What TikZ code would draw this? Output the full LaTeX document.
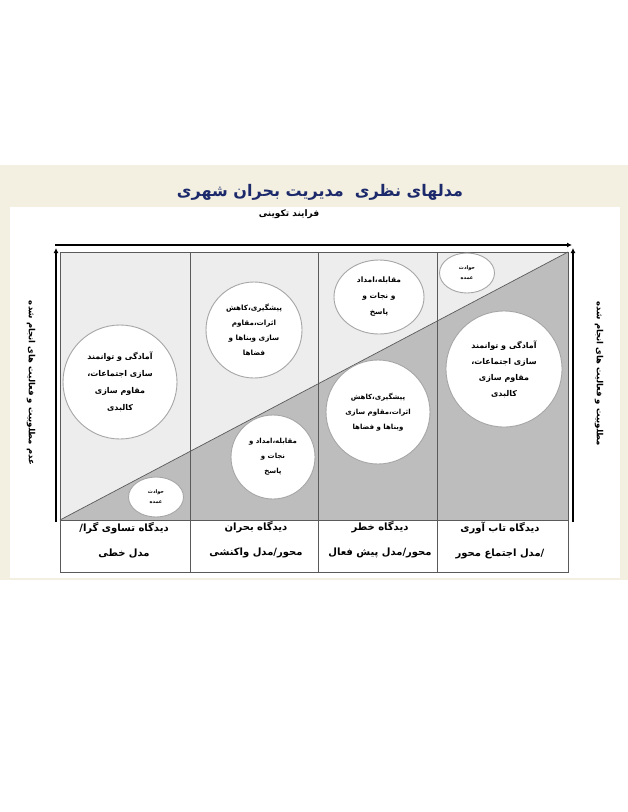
\documentclass[tikz,border=0pt]{standalone}
\usepackage{fontspec}
\newfontfamily\fa[Script=Arabic]{DejaVu Sans}
\TeXXeTstate=1
\definecolor{cream}{HTML}{F3F0E1}
\definecolor{navy}{HTML}{1C2A6B}
\definecolor{lightg}{HTML}{EDEDED}
\definecolor{darkg}{HTML}{BDBDBD}
\definecolor{framec}{HTML}{5A5A5A}
\newcommand\rl[1]{\beginR#1\endR}
\tikzset{
  bubble/.style={circle,draw=gray!70,line width=0.9pt,fill=white,inner sep=0pt,align=center,font=\fa\bfseries},
  ebubble/.style={ellipse,draw=gray!70,line width=0.9pt,fill=white,inner sep=0pt,align=center,font=\fa\bfseries},
  tabtext/.style={font=\fa\bfseries\fontsize{10}{25}\selectfont,align=center,inner sep=0pt},
  sidetext/.style={font=\fa\bfseries\fontsize{8.5}{10}\selectfont,inner sep=0pt,rotate=-90},
  bigarrow/.style={line width=2.2pt,-{Latex[length=5pt,width=5pt]}},
  gridline/.style={draw=framec,line width=0.7pt}
}
\usetikzlibrary{shapes.geometric,arrows.meta}
\begin{document}
\begin{tikzpicture}[x=1pt,y=-1pt]
\useasboundingbox (0,0) rectangle (628,812);
\fill[white] (0,0) rectangle (628,812);
\fill[cream] (0,165) rectangle (628,580);
\fill[white] (10,207) rectangle (620,578);
% title
\node[font=\fa\bfseries\fontsize{16}{18}\selectfont,text=navy,inner sep=0pt] (title) at (320,192) {\rl{مدلهای نظری \ مدیریت بحران شهری}};
\node[font=\fa\bfseries\fontsize{9}{10}\selectfont,inner sep=0pt] (sub) at (289,214) {\rl{فرایند تکوینی}};
% chart background
\coordinate (bl) at (60,520);
\coordinate (tr) at (568,252);
\fill[lightg] (60,252) rectangle (568,520);
\fill[darkg] (bl) -- (tr) -- (568,520) -- cycle;
\draw[gridline] (bl) -- (tr);
\draw[gridline] (60,252) rectangle (568,520);
\draw[gridline] (190,252) -- (190,572);
\draw[gridline] (318,252) -- (318,572);
\draw[gridline] (437,252) -- (437,572);
\draw[gridline] (60,520) rectangle (568,572);
% arrows
\coordinate (ha) at (55,245);
\coordinate (hb) at (572,245);
\coordinate (la) at (56,522);
\coordinate (lb) at (56,248);
\coordinate (ra) at (573,522);
\coordinate (rb) at (573,248);
\draw[bigarrow] (ha) -- (hb);
\draw[bigarrow] (la) -- (lb);
\draw[bigarrow] (ra) -- (rb);
% side labels
\node[sidetext] (lefttxt) at (31,383) {\rl{عدم مطلوبیت و فعالیت های انجام شده}};
\node[sidetext] (righttxt) at (599,374) {\rl{مطلوبیت و فعالیت های انجام شده}};
% bubbles
\node[bubble,minimum size=114pt,font=\fa\bfseries\fontsize{8}{17}\selectfont] (c1) at (120,382)
  {\rl{آمادگی و توانمند}\\\rl{سازی اجتماعات،}\\\rl{مقاوم سازی}\\\rl{کالبدی}};
\node[bubble,minimum size=96pt,font=\fa\bfseries\fontsize{7.2}{15}\selectfont] (c2) at (254,330)
  {\rl{پیشگیری،کاهش}\\\rl{اثرات،مقاوم}\\\rl{سازی وبناها و}\\\rl{فضاها}};
\node[ebubble,minimum width=90pt,minimum height=74pt,font=\fa\bfseries\fontsize{7.5}{16}\selectfont] (c3) at (379,297)
  {\rl{مقابله،امداد}\\\rl{و نجات و}\\\rl{پاسخ}};
\node[ebubble,minimum width=55pt,minimum height=40pt,font=\fa\bfseries\fontsize{5}{10}\selectfont] (c4) at (467,273)
  {\rl{حوادث}\\\rl{عمده}};
\node[bubble,minimum size=116pt,font=\fa\bfseries\fontsize{8}{16}\selectfont] (c5) at (504,369)
  {\rl{آمادگی و توانمند}\\\rl{سازی اجتماعات،}\\\rl{مقاوم سازی}\\\rl{کالبدی}};
\node[bubble,minimum size=84pt,font=\fa\bfseries\fontsize{7}{15}\selectfont] (c6) at (273,457)
  {\rl{مقابله،امداد و}\\\rl{نجات و}\\\rl{پاسخ}};
\node[bubble,minimum size=104pt,font=\fa\bfseries\fontsize{7}{15}\selectfont] (c7) at (378,412)
  {\rl{پیشگیری،کاهش}\\\rl{اثرات،مقاوم سازی}\\\rl{وبناها و فضاها}};
\node[ebubble,minimum width=55pt,minimum height=40pt,font=\fa\bfseries\fontsize{5}{10}\selectfont] (c8) at (156,497)
  {\rl{حوادث}\\\rl{عمده}};
% table
\node[tabtext] (t1) at (124,540) {\rl{دیدگاه تساوی گرا/}\\\rl{مدل خطی}};
\node[tabtext] (t2) at (256,540) {\rl{دیدگاه بحران}\\\rl{محور/مدل واکنشی}};
\node[tabtext] (t3) at (380,540) {\rl{دیدگاه خطر}\\\rl{محور/مدل پیش فعال}};
\node[tabtext] (t4) at (500,540) {\rl{دیدگاه تاب آوری}\\\rl{/مدل اجتماع محور}};
\end{tikzpicture}
\end{document}
